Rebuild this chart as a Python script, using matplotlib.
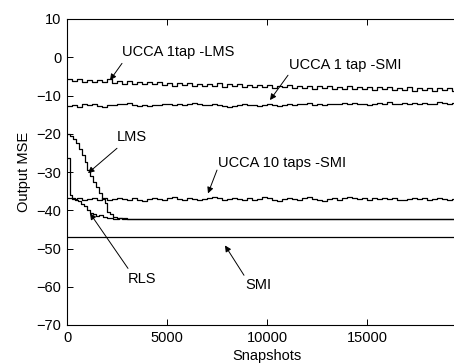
import numpy as np
import matplotlib
matplotlib.use('Agg')
import matplotlib.pyplot as plt

plt.rcParams['font.family'] = ['Liberation Sans', 'DejaVu Sans']

# ---- data ----
grid_x = np.arange(0, 20000, 250)

ucca1_lms = [-5.6, -6.3, -5.8, -6.5, -5.9, -6.6, -6.0, -6.4, -5.8, -6.7, -6.1, -6.9, -6.3, -7.0, -6.4, -7.1, -6.5, -7.0, -6.4, -7.2,
             -6.7, -7.4, -6.8, -7.3, -6.7, -7.5, -6.9, -7.6, -7.0, -7.4, -6.8, -7.7, -7.1, -7.6, -7.0, -7.8, -7.2, -7.9, -7.3, -7.7,
             -7.2, -8.0, -7.4, -7.9, -7.3, -8.1, -7.5, -8.0, -7.4, -8.2, -7.6, -8.1, -7.5, -8.3, -7.7, -8.2, -7.6, -8.4, -7.8, -8.3,
             -7.7, -8.5, -7.9, -8.4, -7.8, -8.6, -8.0, -8.5, -7.9, -8.7, -8.1, -8.6, -8.0, -8.7, -8.1, -8.6, -8.0, -8.7, -8.2, -8.5]

ucca1_smi = [-12.8, -12.5, -12.9, -12.3, -12.6, -12.2, -12.7, -13.0, -12.6, -12.4, -12.1, -12.3, -12.0, -12.4, -12.7, -12.5, -12.8, -12.4, -12.6, -12.3,
             -12.1, -12.4, -12.2, -12.5, -12.3, -12.0, -12.3, -12.6, -12.4, -12.2, -12.5, -12.8, -13.0, -12.7, -12.5, -12.3, -12.6, -12.4, -12.7, -12.5,
             -12.3, -12.6, -12.8, -12.5, -12.2, -12.4, -12.1, -12.3, -12.0, -12.4, -12.2, -12.5, -12.3, -12.1, -12.3, -11.9, -12.2, -12.0, -12.3, -12.1,
             -12.4, -12.2, -12.0, -12.3, -11.8, -12.1, -12.3, -12.0, -12.2, -11.9, -12.2, -12.0, -12.3, -12.1, -11.8, -12.0, -12.2, -11.9, -12.1, -12.0]

ucca10_smi = [-36.8, -37.1, -36.9, -37.3, -37.0, -36.7, -37.2, -36.9, -37.4, -37.1, -36.8, -37.0, -37.3, -36.9, -37.2, -37.5, -37.1, -36.8, -37.0, -37.3,
              -36.9, -36.6, -37.0, -37.2, -36.8, -37.1, -37.4, -37.0, -36.7, -36.5, -36.9, -37.2, -37.0, -36.7, -37.1, -37.3, -36.9, -37.2, -37.0, -36.6,
              -36.9, -37.2, -37.6, -37.1, -36.8, -37.0, -37.3, -36.9, -36.6, -37.0, -37.2, -37.5, -37.1, -36.8, -37.2, -36.9, -36.5, -36.8, -37.1, -36.8,
              -37.2, -36.9, -37.1, -36.7, -37.0, -36.8, -37.2, -37.4, -37.0, -36.8, -37.1, -36.9, -37.2, -37.0, -36.7, -37.0, -37.3, -37.0, -36.9, -37.1]

lms_x = [0, 150, 300, 450, 600, 750, 900, 1000, 1150, 1300, 1450, 1600, 1750, 1900, 2000, 2150, 2300, 2500, 2750, 3000,
         3500, 4000, 4500, 5000, 5500, 6000, 6500, 7000, 7500, 8000, 8500, 9000, 9500, 10000, 10500, 11000, 11500,
         12000, 12500, 13000, 13500, 14000, 14500, 15000, 15500, 16000, 16500, 17000, 17500, 18000, 18500, 19000, 19500, 20000]
lms_y = [-20.0, -20.6, -21.5, -22.5, -24.0, -25.6, -27.5, -29.5, -31.0, -32.5, -34.0, -35.5, -37.0, -38.2, -40.5, -41.0, -41.8, -42.0, -42.4, -42.2,
         -42.3, -42.2, -42.4, -42.3, -42.2, -42.3, -42.4, -42.2, -42.3, -42.3, -42.2, -42.3, -42.4, -42.2, -42.3, -42.3, -42.2,
         -42.4, -42.3, -42.2, -42.3, -42.3, -42.4, -42.2, -42.3, -42.2, -42.3, -42.4, -42.3, -42.2, -42.3, -42.3, -42.2, -42.3]

rls_x = [0, 100, 150, 250, 400, 550, 700, 850, 1000, 1150, 1300, 1450, 1600, 1800, 2000, 2300, 2600, 3000,
         3500, 4000, 4500, 5000, 5500, 6000, 6500, 7000, 7500, 8000, 8500, 9000, 9500, 10000, 10500, 11000, 11500,
         12000, 12500, 13000, 13500, 14000, 14500, 15000, 15500, 16000, 16500, 17000, 17500, 18000, 18500, 19000, 19500, 20000]
rls_y = [-26.4, -26.4, -36.0, -36.8, -37.2, -37.6, -38.3, -39.0, -40.0, -40.8, -41.0, -41.6, -41.2, -41.8, -42.0, -42.3, -42.1, -42.4,
         -42.2, -42.3, -42.4, -42.2, -42.3, -42.3, -42.2, -42.4, -42.3, -42.2, -42.3, -42.4, -42.2, -42.3, -42.3, -42.2, -42.4,
         -42.3, -42.2, -42.3, -42.3, -42.2, -42.4, -42.3, -42.2, -42.3, -42.3, -42.4, -42.2, -42.3, -42.3, -42.2, -42.3, -42.3]

smi_x = np.arange(0, 20500, 500)
smi_y = [-47.0, -47.1, -46.9, -47.0, -47.1, -47.0, -46.9, -47.0, -47.1, -47.0, -46.9, -47.0, -47.1, -47.0, -47.0, -46.9, -47.1,
         -47.0, -46.9, -47.0, -47.1, -47.0, -46.9, -47.0, -47.1, -47.0, -47.0, -46.9, -47.1, -47.0, -46.9, -47.0, -47.1, -47.0,
         -46.9, -47.0, -47.1, -47.0, -46.9, -47.0, -47.0]

x_ticks = [0, 5000, 10000, 15000]
y_ticks = [-70, -60, -50, -40, -30, -20, -10, 0, 10]

# ---- figure ----
fig = plt.figure(figsize=(4.54, 3.63), dpi=100)
ax = fig.add_axes([67 / 454, 38 / 363, 400 / 454, 306 / 363])

kw = dict(color='k', lw=0.9, drawstyle='steps-post')
ax.plot(grid_x, ucca1_lms, **kw)
ax.plot(grid_x, ucca1_smi, **kw)
ax.plot(grid_x, ucca10_smi, **kw)
ax.plot(smi_x, smi_y, **kw)
ax.plot(rls_x, rls_y, **kw)
ax.plot(lms_x, lms_y, **kw)

ax.set_xlim(0, 20000)
ax.set_ylim(-70, 10)
ax.set_xticks(x_ticks)
ax.set_yticks(y_ticks)
ax.tick_params(direction='in', length=4, width=0.7, top=True, right=True,
               labelsize=10.5, pad=4)
for s in ax.spines.values():
    s.set_linewidth(0.8)
ax.set_xlabel('Snapshots', fontsize=10.5, labelpad=3)
ax.set_ylabel('Output MSE', fontsize=10.5, labelpad=4)

fs = 10.5
labels = [
    ('UCCA 1tap -LMS', (2750, 1.3), (2750, -1.6), (2150, -6.0)),
    ('UCCA 1 tap -SMI', (11100, -2.1), (11050, -4.7), (10150, -11.2)),
    ('LMS', (2500, -20.9), (2500, -23.8), (1050, -30.3)),
    ('UCCA 10 taps -SMI', (7550, -27.7), (7500, -29.5), (7050, -35.6)),
    ('RLS', (3050, -58.0), (3050, -55.2), (1150, -40.8)),
    ('SMI', (8900, -59.6), (8850, -57.0), (7900, -49.2)),
]
for txt, tpos, astart, atip in labels:
    ax.text(tpos[0], tpos[1], txt, fontsize=fs, ha='left', va='center')
    ax.annotate('', xy=atip, xytext=astart,
                arrowprops=dict(arrowstyle='-|>', lw=0.7, color='k',
                                mutation_scale=9, shrinkA=0, shrinkB=0))

fig.savefig('out.png', dpi=100)
